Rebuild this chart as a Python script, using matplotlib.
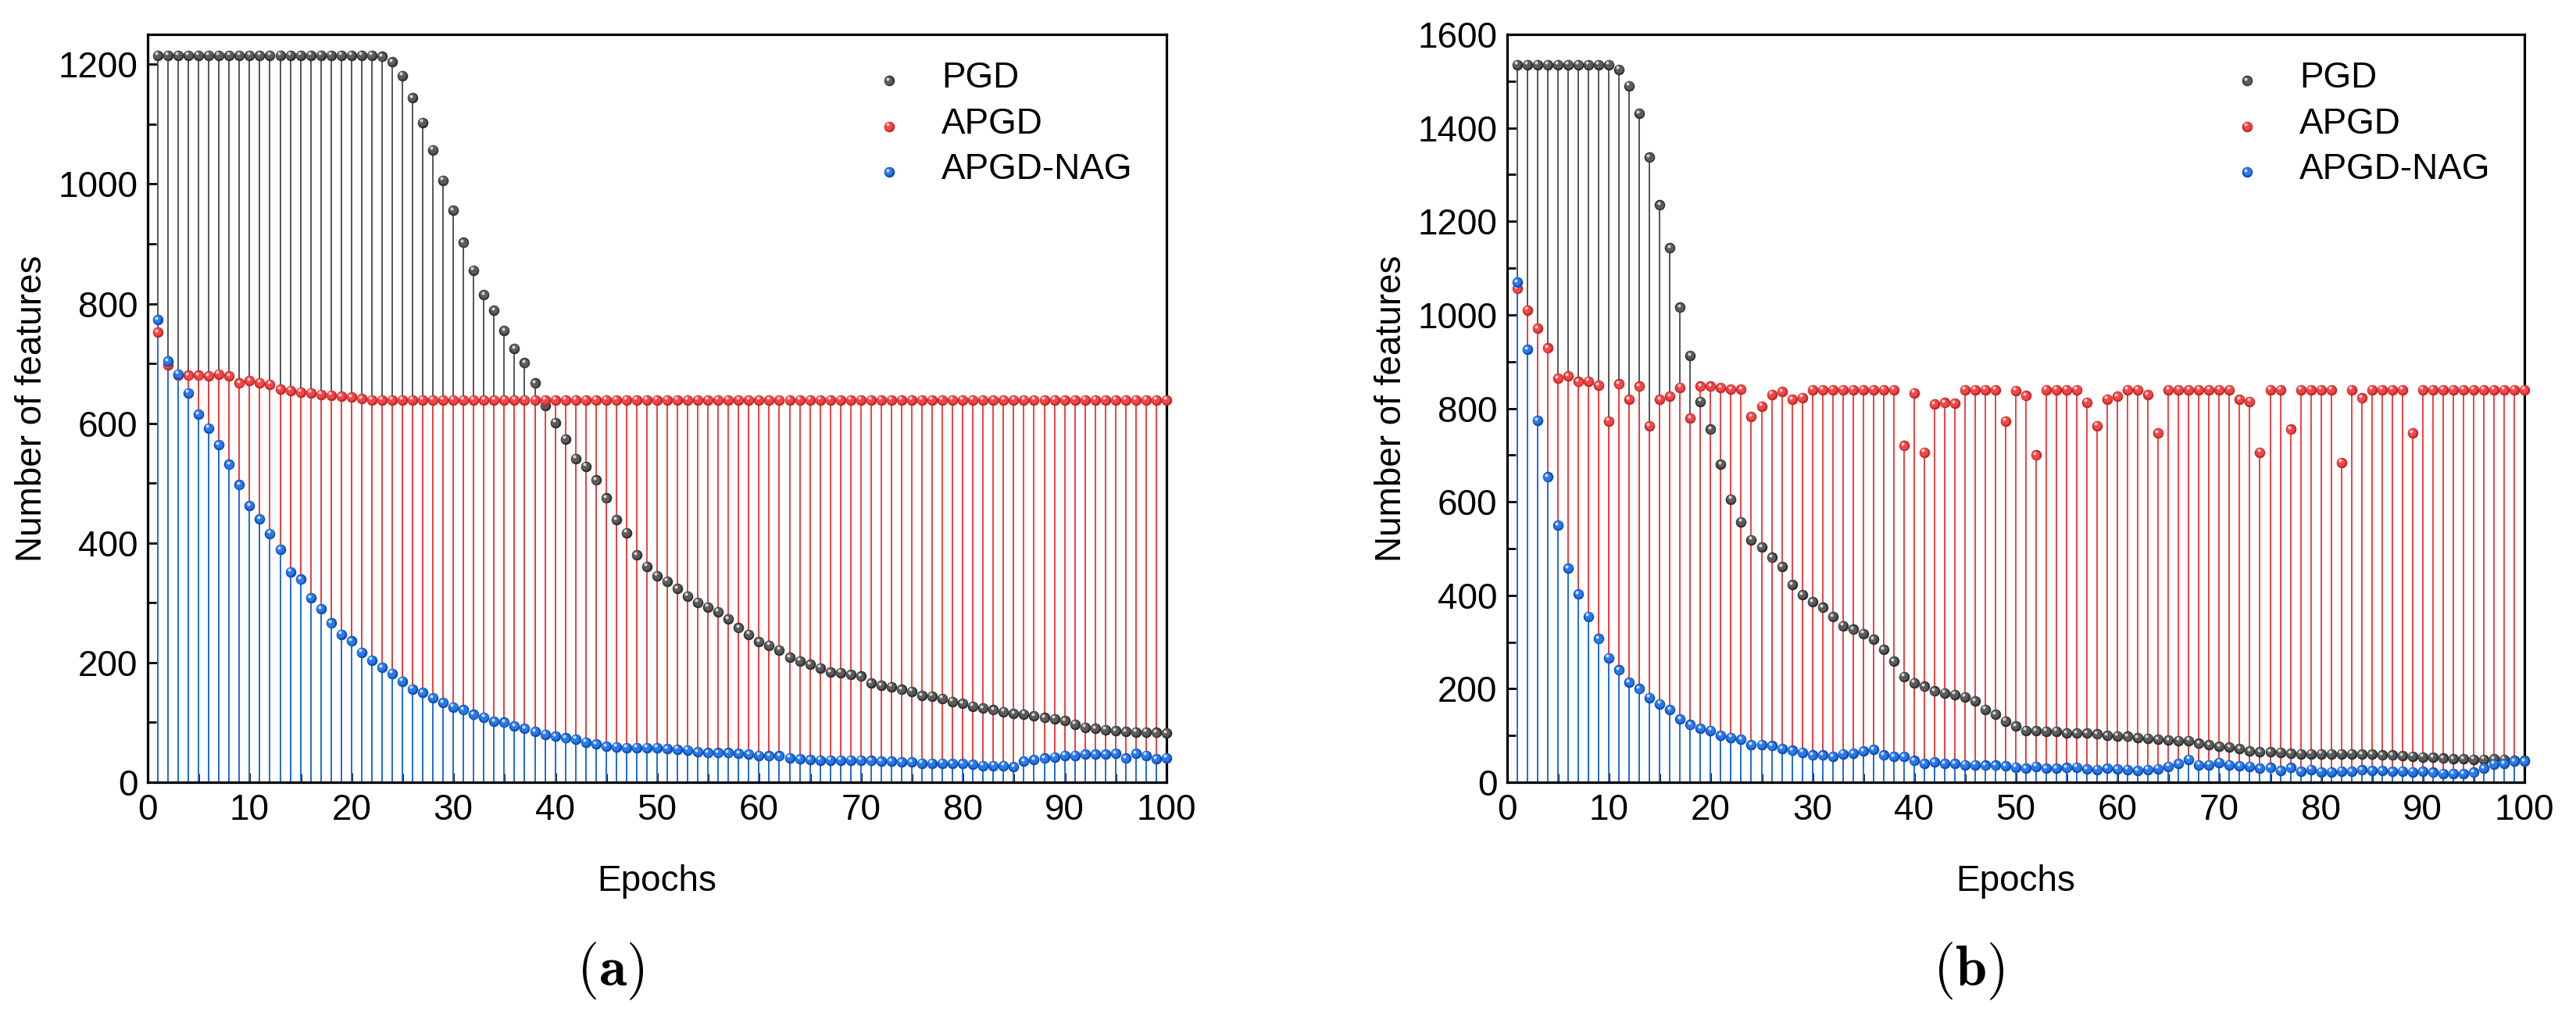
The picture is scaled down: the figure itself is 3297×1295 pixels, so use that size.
import matplotlib
matplotlib.use("Agg")
import matplotlib.pyplot as plt
from matplotlib.transforms import offset_copy
import numpy as np

plt.rcParams['font.family'] = ['Liberation Sans', 'DejaVu Sans']
plt.rcParams['mathtext.fontset'] = 'cm'

epochs = list(range(1, 101))
series_names = ["PGD", "APGD", "APGD-NAG"]

# ---------------- panel (a) ----------------
a_pgd = [1215] * 22 + [
    1213, 1204, 1181, 1144, 1103, 1057, 1006, 956, 902, 856,
    815, 789, 755, 725, 701, 667, 630, 601, 574, 541,
    528, 505, 475, 439, 417, 380, 361, 345, 336, 324,
    311, 301, 293, 285, 273, 258, 247, 235, 229, 221,
    209, 203, 197, 191, 184, 183, 180, 177, 166, 162,
    160, 155, 152, 145, 144, 140, 135, 132, 127, 124,
    121, 118, 115, 114, 111, 108, 106, 103, 97, 92,
    90, 88, 86, 85, 84, 84, 83, 82]
a_apgd = [752, 698, 681, 680, 680, 679, 682, 679, 667, 671,
          668, 665, 657, 655, 652, 651, 648, 647, 645, 644, 641] + [639] * 79
a_nag = [773, 704, 682, 651, 615, 592, 564, 531, 497, 462,
         440, 416, 389, 352, 339, 308, 290, 266, 247, 236,
         217, 204, 192, 182, 169, 156, 150, 141, 133, 126,
         121, 113, 109, 102, 100, 94, 90, 85, 80, 77,
         74, 72, 67, 64, 60, 59, 58, 58, 58, 58,
         56, 55, 54, 51, 49, 49, 49, 48, 47, 45,
         44, 44, 41, 39, 38, 37, 37, 37, 37, 37,
         36, 35, 35, 34, 34, 32, 32, 32, 31, 31,
         30, 28, 28, 28, 26, 35, 38, 40, 42, 45,
         45, 47, 47, 47, 48, 40, 48, 45, 39, 41]

# ---------------- panel (b) ----------------
b_pgd = [1535] * 10 + [
    1525, 1490, 1431, 1337, 1235, 1143, 1016, 913, 815, 755,
    680, 606, 557, 519, 503, 481, 461, 423, 401, 386,
    374, 354, 335, 327, 318, 306, 284, 259, 226, 213,
    205, 195, 191, 188, 183, 174, 156, 145, 131, 120,
    111, 110, 109, 109, 105, 105, 105, 103, 100, 99,
    98, 95, 94, 92, 90, 89, 89, 83, 80, 77,
    75, 72, 67, 65, 65, 64, 62, 61, 61, 61,
    61, 61, 61, 60, 60, 58, 58, 57, 56, 54,
    53, 51, 50, 50, 49, 49, 50, 49, 47, 46]
b_apgd = [1056, 1010, 971, 929, 864, 869, 857, 858, 849, 773,
          852, 819, 847, 762, 819, 826, 845, 779, 847, 847,
          844, 841, 841, 782, 805, 830, 836, 819, 823, 840,
          840, 840, 840, 840, 840, 840, 840, 840, 720, 833,
          706, 809, 812, 811, 840, 840, 840, 840, 773, 838,
          827, 700, 840, 840, 840, 840, 813, 763, 820, 826,
          840, 840, 829, 747, 840, 840, 840, 840, 840, 840,
          840, 819, 815, 706, 840, 840, 755, 840, 840, 840,
          840, 684, 840, 822, 840, 840, 840, 840, 747, 840,
          840, 840, 840, 840, 840, 840, 840, 840, 840, 840]
b_nag = [1070, 926, 774, 653, 550, 458, 403, 355, 307, 266,
         240, 214, 200, 181, 168, 155, 135, 123, 115, 111,
         100, 96, 92, 80, 81, 78, 72, 68, 64, 58,
         58, 55, 61, 62, 67, 70, 58, 55, 55, 46,
         40, 43, 40, 40, 37, 37, 36, 36, 35, 32,
         30, 34, 30, 30, 31, 32, 28, 27, 30, 28,
         27, 25, 27, 29, 34, 40, 49, 37, 37, 42,
         37, 35, 34, 30, 31, 25, 31, 23, 27, 22,
         22, 24, 23, 26, 25, 25, 23, 24, 22, 23,
         21, 19, 18, 18, 21, 30, 39, 40, 45, 45]

x_ticks = [0, 10, 20, 30, 40, 50, 60, 70, 80, 90, 100]
a_yticks = [0, 200, 400, 600, 800, 1000, 1200]
b_yticks = [0, 200, 400, 600, 800, 1000, 1200, 1400, 1600]

# styling
stem_colors = ["#555555", "#ee4242", "#1f70de"]
ball_main = ["#5c5c5c", "#f04747", "#2a79e6"]
ball_dark = ["#333333", "#c42a2a", "#1050b8"]

W, H, DPI = 3298, 1295, 100
fig = plt.figure(figsize=(W / DPI, H / DPI), dpi=DPI)

FS = 33
MS = 9.8  # marker size in points


def balls(ax, x, y, i, transform=None, ms=MS):
    base = ax.transData if transform is None else transform
    ax.plot(x, y, 'o', ms=ms, color=ball_dark[i], mew=0, transform=base,
            zorder=5 + i * 0.1, clip_on=False)
    t2 = offset_copy(base, fig=fig, x=-0.6, y=0.8, units='dots')
    ax.plot(x, y, 'o', ms=ms * 0.78, color=ball_main[i], mew=0, transform=t2,
            zorder=5.02 + i * 0.1, clip_on=False)
    t3 = offset_copy(base, fig=fig, x=-1.8, y=2.4, units='dots')
    ax.plot(x, y, 'o', ms=ms * 0.3, color='white', alpha=0.75, mew=0,
            transform=t3, zorder=5.04 + i * 0.1, clip_on=False)


def panel(rect, data, yticks, ymax, caption):
    ax = fig.add_axes(rect)
    for i, vals in enumerate(data):
        ax.vlines(epochs, 0, vals, colors=stem_colors[i], lw=1.4, zorder=2 + i * 0.1)
    for i, vals in enumerate(data):
        balls(ax, epochs, vals, i)
    ax.set_xlim(0, 100)
    ax.set_ylim(0, ymax)
    ax.set_xticks(x_ticks)
    ax.set_xticks(range(5, 100, 10), minor=True)
    ax.set_yticks(yticks)
    ax.set_yticks(range(100, ymax, 200), minor=True)
    ax.tick_params(which='both', direction='in', top=False, right=False,
                   width=2.0, labelsize=FS)
    ax.tick_params(which='major', length=9)
    ax.tick_params(which='minor', length=8)
    ax.tick_params(axis='x', pad=10)
    ax.tick_params(axis='y', pad=9)
    for s in ax.spines.values():
        s.set_linewidth(2.3)
    ax.set_xlabel("Epochs", fontsize=FS, labelpad=34)
    ax.set_ylabel("Number of features", fontsize=FS)
    ax.yaxis.set_label_coords(-0.097, 0.5)
    # legend
    ys = [0.938, 0.877, 0.816]
    for i, name in enumerate(series_names):
        balls(ax, [0.7275], [ys[i]], i, transform=ax.transAxes)
        ax.text(0.779, ys[i] + 0.003, name, transform=ax.transAxes,
                fontsize=FS, va='center', ha='left')
    # caption
    fig.text(rect[0] + rect[2] / 2 - 60 / W, 1 - 1243 / H, caption,
             fontsize=52, ha='center', va='center')
    return ax


bottom = 1 - 1001 / H
height = (1001 - 44) / H
panel([189 / W, bottom, 1304 / W, height], [a_pgd, a_apgd, a_nag],
      a_yticks, 1250, r'$(\mathbf{a})$')
panel([1929 / W, bottom, 1302 / W, height], [b_pgd, b_apgd, b_nag],
      b_yticks, 1600, r'$(\mathbf{b})$')

fig.savefig("out.png", dpi=DPI)
